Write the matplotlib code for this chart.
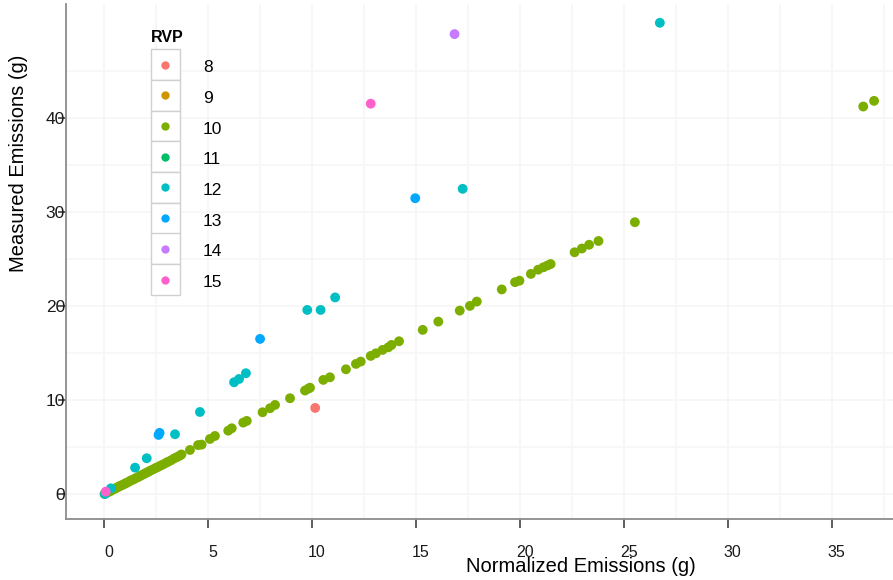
import matplotlib
matplotlib.use("Agg")
import matplotlib.pyplot as plt
import matplotlib.transforms as mtransforms
from matplotlib.patches import Rectangle
import numpy as np

plt.rcParams['font.family'] = ['Liberation Sans', 'DejaVu Sans']

# RVP levels and ggplot default hue colours
rvp_levels = [8, 9, 10, 11, 12, 13, 14, 15]
rvp_colors = ['#F8766D', '#CD9600', '#7CAE00', '#00BE67',
              '#00BFC4', '#00A9FF', '#C77CFF', '#FF61CC']

# normalized (x) vs measured (y) emissions, per RVP
x_rvp8 = [10.13]
y_rvp8 = [9.15]

x_rvp10 = [0.00, 0.05, 0.12, 0.20, 0.28, 0.35, 0.45, 0.55, 0.62, 0.70,
           0.78, 0.85, 0.95, 1.02, 1.10, 1.20, 1.28, 1.40, 1.50, 1.62,
           1.72, 1.80, 1.90, 2.00, 2.10, 2.20, 2.32, 2.45, 2.55, 2.68,
           2.80, 2.95, 3.05, 3.20, 3.35, 3.48, 3.62, 3.70, 4.11, 4.50,
           4.67, 5.07, 5.31, 5.95, 6.12, 6.67, 6.84, 7.60, 7.96, 8.20,
           8.92, 9.64, 9.80, 9.88, 10.52, 10.84, 11.61, 12.09, 12.32, 12.80,
           13.05, 13.37, 13.65, 13.80, 14.16, 15.30, 16.05, 17.08, 17.57, 17.90,
           19.10, 19.74, 19.95, 20.50, 20.85, 21.10, 21.30, 21.45, 22.60, 22.95,
           23.30, 23.75, 25.50, 36.48, 37.00]
y_rvp10 = [0.00, 0.08, 0.15, 0.22, 0.30, 0.40, 0.50, 0.62, 0.70, 0.80,
           0.88, 0.95, 1.05, 1.15, 1.22, 1.35, 1.45, 1.55, 1.68, 1.80,
           1.92, 2.02, 2.12, 2.25, 2.35, 2.48, 2.60, 2.75, 2.85, 3.00,
           3.12, 3.30, 3.42, 3.58, 3.78, 3.92, 4.08, 4.20, 4.68, 5.20,
           5.25, 5.85, 6.17, 6.73, 6.99, 7.59, 7.77, 8.69, 9.12, 9.47,
           10.18, 11.00, 11.20, 11.30, 12.13, 12.41, 13.26, 13.83, 14.08, 14.68,
           14.96, 15.32, 15.60, 15.85, 16.24, 17.45, 18.33, 19.50, 20.00, 20.46,
           21.75, 22.52, 22.68, 23.40, 23.85, 24.10, 24.30, 24.45, 25.70, 26.10,
           26.50, 26.90, 28.90, 41.20, 41.80]

x_rvp12 = [0.02, 0.31, 1.47, 2.03, 3.39, 4.59, 6.23, 6.47, 6.80,
           9.75, 10.39, 11.09, 17.22, 26.70]
y_rvp12 = [0.00, 0.60, 2.80, 3.80, 6.35, 8.72, 11.88, 12.23, 12.84,
           19.57, 19.57, 20.90, 32.45, 50.10]

x_rvp13 = [2.60, 2.65, 7.48, 14.94]
y_rvp13 = [6.28, 6.50, 16.49, 31.45]

x_rvp14 = [16.83]
y_rvp14 = [48.90]

x_rvp15 = [0.06, 12.80]
y_rvp15 = [0.25, 41.50]

series = [(8, x_rvp8, y_rvp8), (10, x_rvp10, y_rvp10), (12, x_rvp12, y_rvp12),
          (13, x_rvp13, y_rvp13), (14, x_rvp14, y_rvp14), (15, x_rvp15, y_rvp15)]

W, H = 893, 580
fig = plt.figure(figsize=(W / 100, H / 100), dpi=100)
ax = fig.add_axes([66 / W, 1 - 519 / H, 1 - 66 / W, (519 - 4) / H])

for rvp, xs, ys in series:
    c = rvp_colors[rvp_levels.index(rvp)]
    ax.scatter(xs, ys, s=50, color=c, edgecolors='none', zorder=3)

ax.set_xlim(-1.85, 37.91)
ax.set_ylim(-2.66, 52.1)
ax.set_xticks(np.arange(0, 36, 5))
ax.set_yticks(np.arange(0, 41, 10))
ax.set_xticks(np.arange(2.5, 38, 5), minor=True)
ax.set_yticks(np.arange(5, 52, 10), minor=True)
ax.grid(True, which='both', color='#F7F7F7', linewidth=1.3, zorder=0)
ax.set_axisbelow(True)

for side in ['top', 'right']:
    ax.spines[side].set_visible(False)
for side in ['left', 'bottom']:
    ax.spines[side].set_color('#8C8C8C')
    ax.spines[side].set_linewidth(1.3)

ax.tick_params(which='minor', length=0)
ax.tick_params(axis='x', which='major', direction='out', length=6.5, width=1.1,
               color='#333333', pad=12, labelsize=11.5, labelcolor='#1A1A1A')
ax.tick_params(axis='y', which='major', direction='out', length=5.8, width=1.1,
               color='#333333', pad=-5.0, labelsize=12.5, labelcolor='#1A1A1A')

# x tick labels sit a little to the right of the ticks
shift = mtransforms.ScaledTranslation(3 / 72, 0, fig.dpi_scale_trans)
for lbl in ax.get_xticklabels():
    lbl.set_transform(lbl.get_transform() + shift)

fig.text(581 / W, 1 - 566 / H, 'Normalized Emissions (g)', ha='center', va='center',
         fontsize=14.5, color='black')
fig.text(19 / W, 1 - 163 / H, 'Measured Emissions (g)', ha='center', va='center',
         rotation=90, fontsize=14.5, color='black')

# legend drawn as boxed keys
key_left, key_top, key_w, key_h = 150.5, 49.3, 29.5, 30.7
fig.text(key_left / W, 1 - 38 / H, 'RVP', ha='left', va='center',
         fontsize=11.5, fontweight='bold')
for i, (lev, col) in enumerate(zip(rvp_levels, rvp_colors)):
    top = key_top + i * key_h
    fig.add_artist(Rectangle((key_left / W, 1 - (top + key_h) / H), key_w / W, key_h / H,
                             transform=fig.transFigure, facecolor='white',
                             edgecolor='#D0D0D0', linewidth=1.0))
    cy = 1 - (top + key_h / 2) / H
    fig.add_artist(plt.Line2D([(key_left + key_w / 2) / W], [cy], marker='o',
                              markersize=6.0, color=col, markeredgewidth=0,
                              transform=fig.transFigure))
    fig.text(203 / W, cy - 3 / H, str(lev), ha='left', va='center', fontsize=12.5)

fig.savefig('out.png', dpi=100)
